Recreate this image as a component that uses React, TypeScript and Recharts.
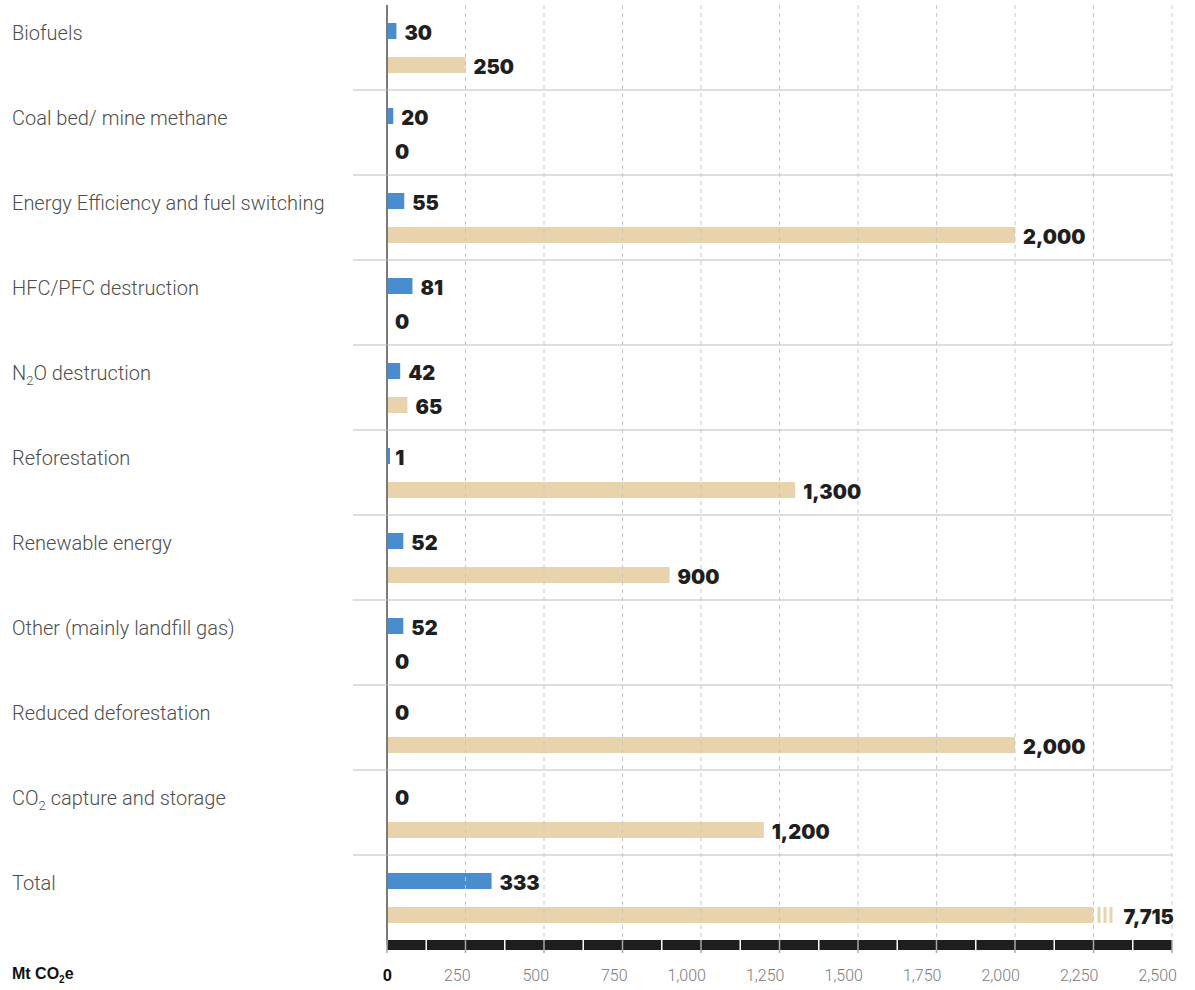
import { Bar, BarChart, LabelList, ReferenceLine, XAxis, YAxis } from "recharts";

const categories = [
  "Biofuels",
  "Coal bed/ mine methane",
  "Energy Efficiency and fuel switching",
  "HFC/PFC destruction",
  "N2O destruction",
  "Reforestation",
  "Renewable energy",
  "Other (mainly landfill gas)",
  "Reduced deforestation",
  "CO2 capture and storage",
  "Total",
];
const issued = [30, 20, 55, 81, 42, 1, 52, 52, 0, 0, 333];
const potential = [250, 0, 2000, 0, 65, 1300, 900, 0, 2000, 1200, 7715];

const majorTicks = [0, 250, 500, 750, 1000, 1250, 1500, 1750, 2000, 2250, 2500];
const minorTicks = [125, 375, 625, 875, 1125, 1375, 1625, 1875, 2125, 2375];
const axisTicks = [...majorTicks, ...minorTicks].sort((a, b) => a - b);

const AXIS_MAX = 2500;
const BREAK_AT = 2250;

const W = 1195;
const H = 990;
const MARGIN = { top: 5, right: 23, left: 0, bottom: 0 };
const Y_W = 387;
const X_H = 45;
const PLOT_W = W - MARGIN.left - MARGIN.right - Y_W;
const SEP_LEFT = 353;
const SEP_RIGHT = W - MARGIN.right;

const BLUE = "#4a8dcf";
const BEIGE = "#e8d3ad";

const data = categories.map((name, i) => ({
  name,
  issued: issued[i],
  potential: potential[i],
}));

const fmt = (v: number) => v.toLocaleString("en-US");

// split "N2O" / "CO2" so the 2 can be set as a subscript
function withSubscripts(name: string) {
  const parts = name.split(/(?<=N|CO)2/);
  const out: any[] = [];
  parts.forEach((p, i) => {
    if (i > 0) {
      out.push(
        <tspan key={"s" + i} fontSize={13} dy={5}>
          2
        </tspan>
      );
      out.push(
        <tspan key={"p" + i} dy={-5}>
          {p}
        </tspan>
      );
    } else {
      out.push(<tspan key={"p" + i}>{p}</tspan>);
    }
  });
  return out;
}

function CategoryTick(props: any) {
  const { y, payload, index } = props;
  const half = payload?.offset ?? 42.5;
  const last = index === categories.length - 1;
  return (
    <g>
      <text
        x={12}
        y={y - 8}
        fontFamily="Roboto, sans-serif"
        fontWeight={300}
        fontSize={20}
        fill="#4d4d4d"
      >
        {withSubscripts(String(payload.value))}
      </text>
      {!last && (
        <line x1={SEP_LEFT} x2={SEP_RIGHT} y1={y + half} y2={y + half} stroke="#bdbdbd" strokeWidth={1} />
      )}
    </g>
  );
}

function ValueTick(props: any) {
  const { x, y, payload } = props;
  const v = payload.value as number;
  const major = v % 250 === 0;
  if (!major) {
    return <line x1={x} x2={x} y1={y - 5} y2={y + 5} stroke="#ffffff" strokeWidth={1.5} />;
  }
  return (
    <g>
      <line x1={x} x2={x} y1={y - 5} y2={y + 8} stroke="#a8a8a8" strokeWidth={1.5} />
      <text
        x={x + 5}
        y={y + 36}
        textAnchor="end"
        fontFamily="Roboto, sans-serif"
        fontWeight={v === 0 ? 700 : 300}
        fontSize={16}
        fill={v === 0 ? "#111" : "#7a7a7a"}
      >
        {fmt(v)}
      </text>
    </g>
  );
}

function IssuedShape(props: any) {
  const { x, y, width, height, fill, payload } = props;
  const v = payload?.issued ?? 0;
  if (v <= 0) return <g />;
  return <rect x={x} y={y} width={Math.max(width, 3)} height={height} fill={fill} />;
}

function PotentialShape(props: any) {
  const { x, y, width, height, fill, payload } = props;
  const v = payload?.potential ?? 0;
  if (v <= AXIS_MAX) {
    return <rect x={x} y={y} width={Math.max(width, 0)} height={height} fill={fill} />;
  }
  const w = (BREAK_AT * PLOT_W) / AXIS_MAX;
  return (
    <g>
      <rect x={x} y={y} width={w} height={height} fill={fill} />
      {[4, 10, 16].map((o) => (
        <rect key={o} x={x + w + o} y={y} width={3} height={height} fill={fill} />
      ))}
    </g>
  );
}

function ValueLabel(props: any) {
  const vb = props.viewBox || props;
  const x = vb.x ?? props.x;
  const y = vb.y ?? props.y;
  const width = vb.width ?? props.width ?? 0;
  const height = vb.height ?? props.height ?? 0;
  const v = Number(props.value);
  const end = v > AXIS_MAX ? x + (BREAK_AT * PLOT_W) / AXIS_MAX + 22 : x + Math.max(width, 0);
  return (
    <text
      x={end + 8}
      y={y + height / 2}
      dy="0.45em"
      fontFamily="Inter, sans-serif"
      fontWeight={900}
      fontSize={20}
      fill="#1f1f1f"
    >
      {fmt(v)}
    </text>
  );
}

export default function App() {
  return (
    <div style={{ position: "absolute", left: 0, top: 0, width: W, height: H, background: "#fff" }}>
      <BarChart
        width={W}
        height={H}
        data={data}
        layout="vertical"
        margin={MARGIN}
        barGap={18}
      >
        {majorTicks
          .filter((t) => t > 0)
          .map((t) => (
            <ReferenceLine key={t} x={t} stroke="#c6c6c6" strokeDasharray="4 4" ifOverflow="extendDomain" />
          ))}
        <XAxis
          type="number"
          domain={[0, AXIS_MAX]}
          ticks={axisTicks}
          interval={0}
          allowDataOverflow
          height={X_H}
          axisLine={{ stroke: "#1e1e1e", strokeWidth: 10 }}
          tickLine={false}
          tickSize={0}
          tickMargin={0}
          tick={<ValueTick />}
        />
        <YAxis
          type="category"
          dataKey="name"
          width={Y_W}
          padding={{ top: 0, bottom: 5 }}
          axisLine={{ stroke: "#7a7a7a", strokeWidth: 2 }}
          tickLine={false}
          interval={0}
          tick={<CategoryTick />}
        />
        <Bar
          dataKey="issued"
          fill={BLUE}
          barSize={16}
          isAnimationActive={false}
          shape={<IssuedShape />}
        >
          <LabelList dataKey="issued" content={<ValueLabel />} />
        </Bar>
        <Bar
          dataKey="potential"
          fill={BEIGE}
          barSize={16}
          isAnimationActive={false}
          shape={<PotentialShape />}
        >
          <LabelList dataKey="potential" content={<ValueLabel />} />
        </Bar>
      </BarChart>
      <div
        style={{
          position: "absolute",
          left: 12,
          top: 965,
          fontFamily: "'Liberation Sans', Arial, sans-serif",
          fontWeight: 700,
          fontSize: 16,
          color: "#111",
        }}
      >
        Mt CO<sub style={{ fontSize: 10 }}>2</sub>e
      </div>
    </div>
  );
}
